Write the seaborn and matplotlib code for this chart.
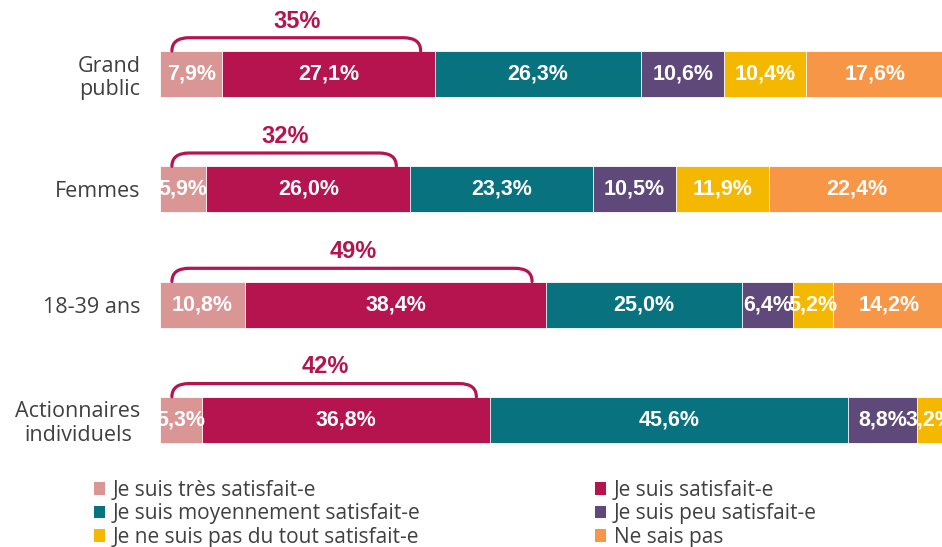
import matplotlib.pyplot as plt
import seaborn as sns
import numpy as np
import pandas as pd
from matplotlib.path import Path
from matplotlib.patches import PathPatch, Patch

# Data (percentages)
categories = ["Grand\npublic", "Femmes", "18-39 ans", "Actionnaires\nindividuels"]
levels = [
    "Je suis très satisfait-e",
    "Je suis satisfait-e",
    "Je suis moyennement satisfait-e",
    "Je suis peu satisfait-e",
    "Je ne suis pas du tout satisfait-e",
    "Ne sais pas",
]
tres_satisfait = [7.9, 5.9, 10.8, 5.3]
satisfait = [27.1, 26.0, 38.4, 36.8]
moyennement = [26.3, 23.3, 25.0, 45.6]
peu_satisfait = [10.6, 10.5, 6.4, 8.8]
pas_du_tout = [10.4, 11.9, 5.2, 3.2]
ne_sais_pas = [17.6, 22.4, 14.2, 0.3]

colors = ["#D99694", "#B5144F", "#08737F", "#5F497A", "#F5B800", "#F79646"]
accent = "#B5144F"
text_grey = "#404040"

series = [tres_satisfait, satisfait, moyennement, peu_satisfait, pas_du_tout, ne_sais_pas]
df = pd.DataFrame({"categorie": categories})
for name, vals in zip(levels, series):
    df[name] = vals
cum = df[levels].cumsum(axis=1)
cum["categorie"] = categories


def fmt(v):
    return f"{v:.1f}".replace(".", ",") + "%"


sns.set_theme(style="white")
plt.rcParams["font.family"] = ["Open Sans", "DejaVu Sans"]

fig = plt.figure(figsize=(9.42, 5.47), dpi=100)
ax = fig.add_axes([0.170, 0.127, 0.833, 0.843])

# Stacked bars: draw cumulative totals from the last segment backwards
for name, col in reversed(list(zip(levels, colors))):
    sns.barplot(
        data=cum, x=name, y="categorie", order=categories, orient="h",
        color=col, saturation=1, width=0.4, edgecolor="white", linewidth=0.6,
        errorbar=None, ax=ax,
    )

# Value labels inside each segment
for i in range(len(categories)):
    for name in levels:
        v = df.loc[i, name]
        if v < 1:
            continue
        mid = cum.loc[i, name] - v / 2
        ax.text(mid, i, fmt(v), ha="center", va="center", color="white",
                fontsize=15.5, fontweight="bold", family="Liberation Sans", clip_on=True)

# Brackets grouping the two "satisfied" answers
top_two = [a + b for a, b in zip(tres_satisfait, satisfait)]
for i, total in enumerate(top_two):
    y0, y1 = i - 0.2, i - 0.315
    x0, x1, dx = 1.5, total - 1.8, 2.2
    verts = [(x0, y0), (x0, y1), (x0 + dx, y1), (x1 - dx, y1), (x1, y1), (x1, y0)]
    codes = [Path.MOVETO, Path.CURVE3, Path.CURVE3, Path.LINETO, Path.CURVE3, Path.CURVE3]
    ax.add_patch(PathPatch(Path(verts, codes), fill=False, edgecolor=accent,
                           lw=2.3, capstyle="round", clip_on=False))
    ax.text(total / 2, i - 0.46, f"{round(total):.0f}%", ha="center", va="center",
            color=accent, fontsize=17, fontweight="bold", family="Liberation Sans")

ax.set_xlim(0, 100)
ax.set_ylim(3.5, -0.5)
ax.set_xlabel("")
ax.set_ylabel("")
ax.set_xticks([])
ax.tick_params(axis="y", length=0, pad=14, labelsize=15.5, labelcolor=text_grey)
for lbl in ax.get_yticklabels():
    lbl.set_multialignment("center")
    lbl.set_linespacing(1.15)
sns.despine(ax=ax, left=True, bottom=True)

# Legend in two columns (row-wise reading order)
handles = [Patch(facecolor=c, edgecolor="none") for c in colors]
leg_kw = dict(loc="upper left", frameon=False, borderpad=0, borderaxespad=0,
              fontsize=15, handlelength=0.55, handleheight=0.55, handletextpad=0.35,
              labelspacing=0.12, labelcolor=text_grey)
fig.legend(handles[0::2], levels[0::2], bbox_to_anchor=(94 / 942, 1 - 480 / 547), **leg_kw)
fig.legend(handles[1::2], levels[1::2], bbox_to_anchor=(595 / 942, 1 - 480 / 547), **leg_kw)

fig.savefig("out.png", dpi=100)
